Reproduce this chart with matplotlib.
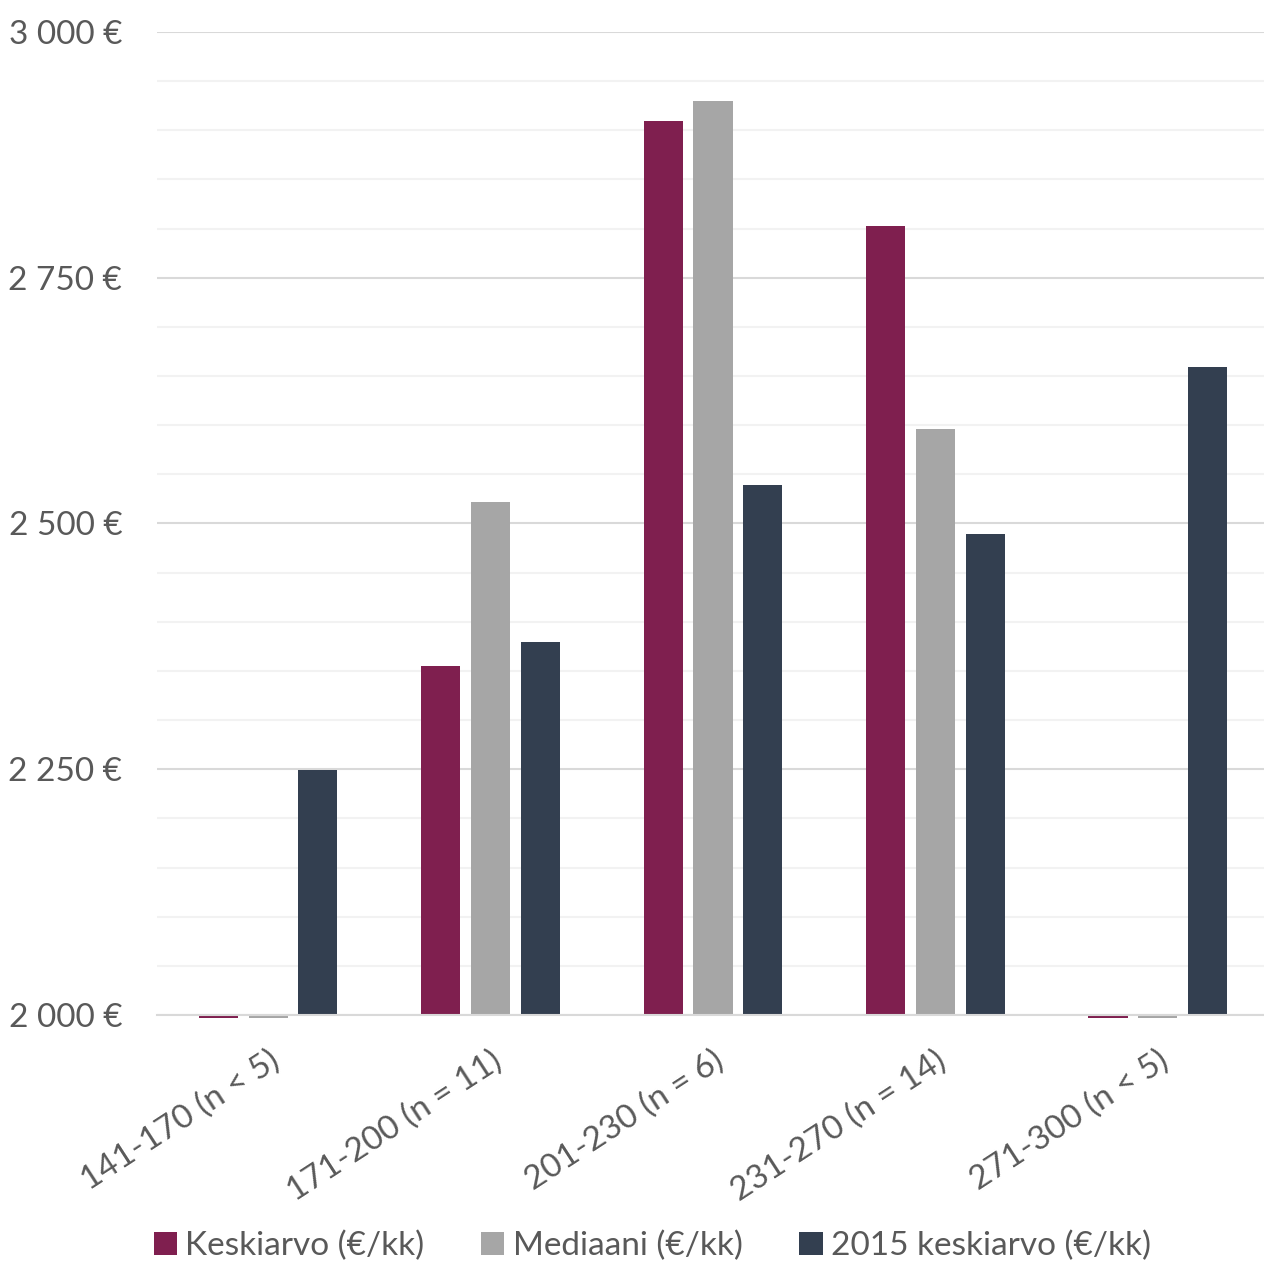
import numpy as np
import matplotlib
matplotlib.use("Agg")
import matplotlib.pyplot as plt
from matplotlib.patches import Patch
from matplotlib.ticker import MultipleLocator, FuncFormatter

# Data (values in euros per month)
categories = ["141-170 (n < 5)", "171-200 (n = 11)", "201-230 (n = 6)",
              "231-270 (n = 14)", "271-300 (n < 5)"]
series_names = ["Keskiarvo (€/kk)", "Mediaani (€/kk)", "2015 keskiarvo (€/kk)"]
keskiarvo = [1997, 2355, 2909, 2803, 1997]   # n < 5 groups show only a stub
mediaani = [1997, 2522, 2930, 2596, 1997]
keskiarvo_2015 = [2249, 2379, 2539, 2489, 2659]
colors = ["#7f1f4f", "#a6a6a6", "#333f50"]

plt.rcParams["font.family"] = ["Lato", "DejaVu Sans"]
text_color = "#595959"

fig = plt.figure(figsize=(12.64, 12.66), dpi=100)
ax = fig.add_axes([0.1242, 0.1983, 0.8797, 0.7764])

base = 2000
x = np.arange(len(categories))
width = 0.176
step = 0.2236
for i, (vals, col) in enumerate(zip([keskiarvo, mediaani, keskiarvo_2015], colors)):
    heights = [v - base for v in vals]
    ax.bar(x + (i - 1) * step, heights, width, bottom=base, color=col,
           clip_on=False, zorder=3)

ax.set_xlim(-0.5, len(categories) - 0.5)
ax.set_ylim(2000, 3000)

# Gridlines: major every 250, minor every 50
ax.yaxis.set_major_locator(MultipleLocator(250))
ax.yaxis.set_minor_locator(MultipleLocator(50))
ax.grid(axis="y", which="major", color="#d9d9d9", linewidth=1.5, zorder=0)
ax.grid(axis="y", which="minor", color="#f2f2f2", linewidth=1.5, zorder=0)
ax.set_axisbelow(True)

def euro(v, pos):
    return f"{int(v):,} €".replace(",", " ")

ax.yaxis.set_major_formatter(FuncFormatter(euro))
ax.tick_params(axis="y", which="both", length=0, pad=25, labelsize=24,
               labelcolor=text_color)
ax.set_xticks(x)
ax.set_xticklabels(categories, rotation=33, ha="right", rotation_mode="anchor")
ax.tick_params(axis="x", length=0, pad=22, labelsize=24, labelcolor=text_color)

for side in ["top", "right", "left"]:
    ax.spines[side].set_visible(False)
ax.spines["bottom"].set_color("#d9d9d9")
ax.spines["bottom"].set_linewidth(1.5)
ax.spines["bottom"].set_zorder(4)

handles = [Patch(facecolor=c, label=n) for c, n in zip(colors, series_names)]
fig.legend(handles=handles, loc="lower center", bbox_to_anchor=(0.516, -0.02),
           ncol=3, frameon=False, fontsize=24, labelcolor=text_color,
           handlelength=0.7, handleheight=0.7, handletextpad=0.25,
           columnspacing=1.7)

fig.savefig("out.png", dpi=100)
